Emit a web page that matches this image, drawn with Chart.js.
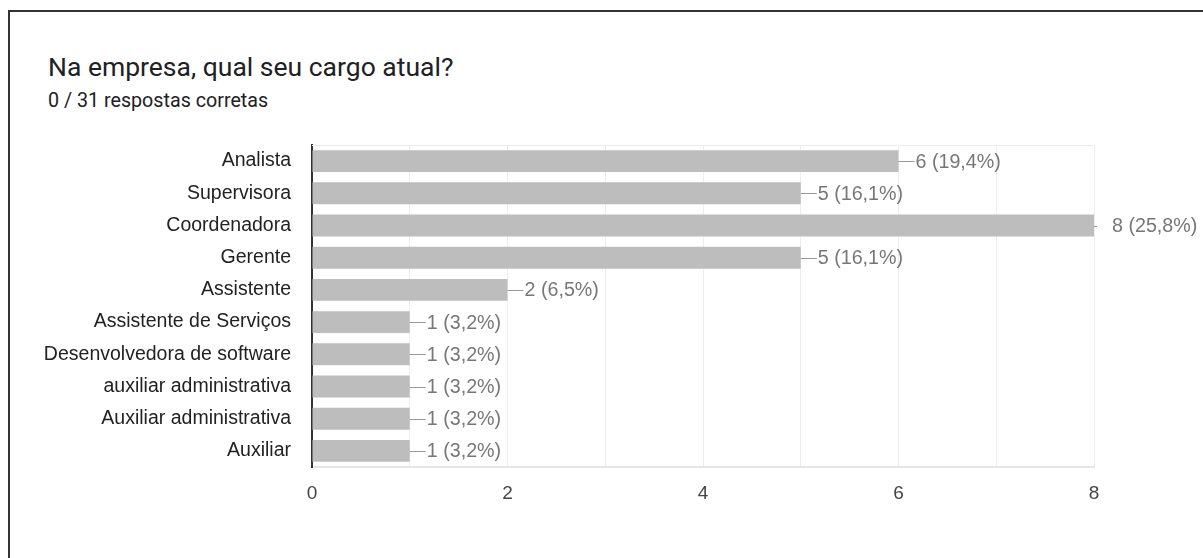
<!DOCTYPE html>
<html>
<head>
<meta charset="utf-8">
<script src="https://cdn.jsdelivr.net/npm/chart.js@4/dist/chart.umd.min.js"></script>
<style>
  html, body { margin: 0; padding: 0; background: #fff; }
  #wrap { position: relative; width: 1203px; height: 558px; overflow: hidden; }
  #frame { position: absolute; left: 8px; top: 10px; right: -10px; bottom: -10px;
           border-left: 2px solid #333; border-top: 2px solid #333; }
  #title { position: absolute; left: 48px; top: 54px; font: 26.5px/26px Roboto, sans-serif; color: #202124; }
  #sub { position: absolute; left: 48px; top: 91px; font: 19.7px/19px Roboto, sans-serif; color: #202124; }
  canvas { position: absolute; left: 0; top: 0; }
</style>
</head>
<body>
<div id="wrap">
  <div id="frame"></div>
  <div id="title">Na empresa, qual seu cargo atual?</div>
  <div id="sub">0 / 31 respostas corretas</div>
  <canvas id="graphs" width="1203" height="558"></canvas>
</div>
<script>
const cargos = ['Analista', 'Supervisora', 'Coordenadora', 'Gerente', 'Assistente',
    'Assistente de Serviços', 'Desenvolvedora de software', 'auxiliar administrativa',
    'Auxiliar administrativa', 'Auxiliar'];
const respostas = [6, 5, 8, 5, 2, 1, 1, 1, 1, 1];
const totalRespostas = 31;
const xTicks = [0, 2, 4, 6, 8];

const FONT = 'Arial, "Liberation Sans", sans-serif';

// leader line + "n (p%)" at the end of every bar
const barLabels = {
    id: 'barLabels',
    afterDatasetsDraw(chart) {
        const ctx = chart.ctx;
        const meta = chart.getDatasetMeta(0);
        const area = chart.chartArea;
        ctx.save();
        ctx.font = '19.7px ' + FONT;
        ctx.textBaseline = 'middle';
        ctx.fillStyle = '#777';
        ctx.strokeStyle = '#999';
        ctx.lineWidth = 1;
        meta.data.forEach((bar, i) => {
            const v = respostas[i];
            const pct = (v / totalRespostas * 100).toFixed(1).replace('.', ',');
            const atEdge = bar.x >= area.right - 1;
            const lineLen = atEdge ? 3 : 16;
            const gap = atEdge ? 18 : 17;
            ctx.beginPath();
            ctx.moveTo(bar.x, Math.round(bar.y) + 0.5);
            ctx.lineTo(bar.x + lineLen, Math.round(bar.y) + 0.5);
            ctx.stroke();
            ctx.fillText(v + ' (' + pct + '%)', bar.x + gap, bar.y + 1);
        });
        // faint top edge of the plot box
        ctx.strokeStyle = '#ececec';
        ctx.beginPath();
        ctx.moveTo(area.left, area.top + 0.5);
        ctx.lineTo(area.right, area.top + 0.5);
        ctx.stroke();
        ctx.restore();
    }
};

const ctx = document.getElementById('graphs').getContext('2d');
new Chart(ctx, {
    type: 'bar',
    data: {
        labels: cargos,
        datasets: [{
            data: respostas,
            backgroundColor: '#bdbdbd',
            borderWidth: 0,
            barPercentage: 0.68,
            categoryPercentage: 1,
        }],
    },
    plugins: [barLabels],
    options: {
        indexAxis: 'y',
        responsive: false,
        animation: false,
        layout: {
            padding: { left: 0, top: 145, right: 109, bottom: 51 },
        },
        plugins: {
            legend: { display: false },
            tooltip: { enabled: false },
        },
        scales: {
            x: {
                min: 0,
                max: 8,
                afterFit(scale) { scale.height = 40; },
                afterBuildTicks(scale) {
                    scale.ticks = [0, 1, 2, 3, 4, 5, 6, 7, 8].map(v => ({ value: v }));
                },
                grid: {
                    color: '#ededed',
                    drawTicks: false,
                },
                border: { color: '#e6e6e6', width: 2 },
                ticks: {
                    color: '#444',
                    padding: 15,
                    font: { size: 19, family: FONT },
                    callback: (v) => xTicks.includes(v) ? String(v) : '',
                },
            },
            y: {
                afterFit(scale) { scale.width = 312; },
                grid: { display: false, drawTicks: false },
                border: { color: '#333', width: 2 },
                ticks: {
                    color: '#222',
                    padding: 21,
                    font: { size: 19.5, family: FONT },
                },
            },
        },
    },
});
</script>
</body>
</html>
